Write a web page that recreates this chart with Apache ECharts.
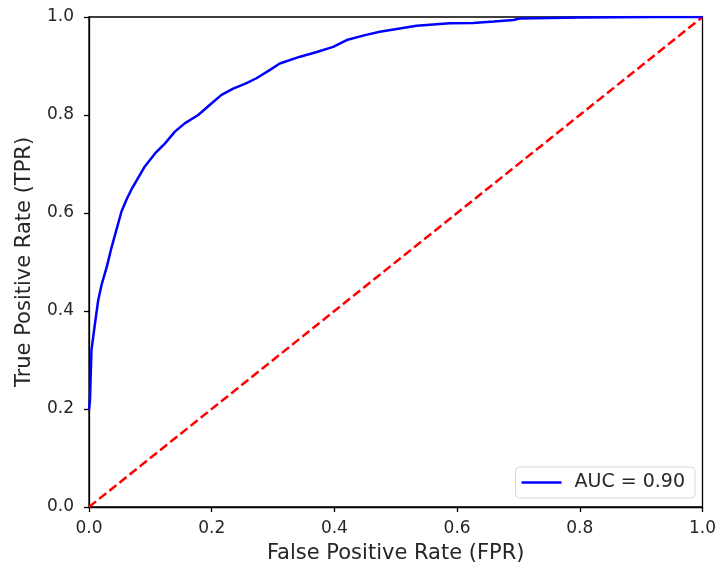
<!DOCTYPE html>
<html>
<head>
<meta charset="utf-8">
<script src="https://cdn.jsdelivr.net/npm/echarts@6/dist/echarts.min.js"></script>
<style>html,body{margin:0;padding:0;background:#fff}#c{width:718px;height:566px}</style>
</head>
<body>
<div id="c"></div>
<script>
const fpr = [0, 0.0016, 0.004, 0.0098, 0.015, 0.021, 0.029, 0.037, 0.045, 0.053, 0.061, 0.07, 0.078, 0.091, 0.108, 0.124, 0.140, 0.156, 0.178, 0.2, 0.216, 0.235, 0.255, 0.273, 0.295, 0.311, 0.344, 0.37, 0.398, 0.42, 0.45, 0.474, 0.534, 0.588, 0.626, 0.66, 0.692, 0.702, 0.8, 0.915, 1.0];
const tpr = [0.198, 0.218, 0.32, 0.375, 0.422, 0.456, 0.49, 0.531, 0.567, 0.603, 0.627, 0.65, 0.667, 0.695, 0.722, 0.742, 0.766, 0.783, 0.80, 0.824, 0.841, 0.854, 0.864, 0.875, 0.892, 0.905, 0.919, 0.928, 0.939, 0.953, 0.963, 0.970, 0.982, 0.987, 0.988, 0.991, 0.994, 0.997, 0.999, 1.0, 1.0];
const diagX = [0, 1];
const diagY = [0, 1];
const legendLabel = 'AUC = 0.90';
const xName = 'False Positive Rate (FPR)';
const yName = 'True Positive Rate (TPR)';

const roc = fpr.map((v, i) => [v, tpr[i]]);
const diag = diagX.map((v, i) => [v, diagY[i]]);
const txt = '#262626';
const font = 'DejaVu Sans';

const chart = echarts.init(document.getElementById('c'));
chart.setOption({
  animation: false,
  backgroundColor: '#fff',
  textStyle: { fontFamily: font },
  grid: { left: 89, right: 15.5, top: 17, bottom: 59, show: true, borderColor: '#000', borderWidth: 1.3, containLabel: false, outerBoundsMode: 'none' },
  xAxis: {
    type: 'value', min: 0, max: 1, interval: 0.2,
    name: xName, nameLocation: 'middle', nameGap: 36,
    nameTextStyle: { color: txt, fontSize: 21, fontFamily: font },
    axisLine: { show: true, lineStyle: { color: '#000', width: 1.3 } },
    axisTick: { show: true, length: 5, lineStyle: { color: '#000', width: 1.3 } },
    axisLabel: { color: txt, fontSize: 17, fontFamily: font, margin: 13, formatter: v => v.toFixed(1) },
    splitLine: { show: false }
  },
  yAxis: {
    type: 'value', min: 0, max: 1, interval: 0.2,
    name: yName, nameLocation: 'middle', nameGap: 54,
    nameTextStyle: { color: txt, fontSize: 21, fontFamily: font },
    axisLine: { show: true, lineStyle: { color: '#000', width: 1.3 } },
    axisTick: { show: true, length: 5, lineStyle: { color: '#000', width: 1.3 } },
    axisLabel: { color: txt, fontSize: 17, fontFamily: font, margin: 15, formatter: v => v.toFixed(1) },
    splitLine: { show: false }
  },
  legend: {
    data: [{ name: legendLabel, icon: 'rect' }],
    right: 23, bottom: 68,
    orient: 'vertical',
    itemWidth: 40, itemHeight: 2.5, itemGap: 8,
    padding: [6, 10, 6, 6],
    borderColor: '#d8d8d8', borderWidth: 1, borderRadius: 4,
    backgroundColor: 'rgba(255,255,255,0.8)',
    textStyle: { color: txt, fontSize: 19, fontFamily: font, padding: [0, 0, 0, 8] }
  },
  series: [
    {
      name: legendLabel, type: 'line', data: roc, symbol: 'none', smooth: false,
      lineStyle: { color: '#0000ff', width: 2.5 }, itemStyle: { color: '#0000ff' }, z: 3
    },
    {
      name: 'diag', type: 'line', data: diag, symbol: 'none',
      lineStyle: { color: '#ff0000', width: 2.5, type: [9, 4] }, itemStyle: { color: '#ff0000' }, z: 2
    }
  ]
});
</script>
</body>
</html>
